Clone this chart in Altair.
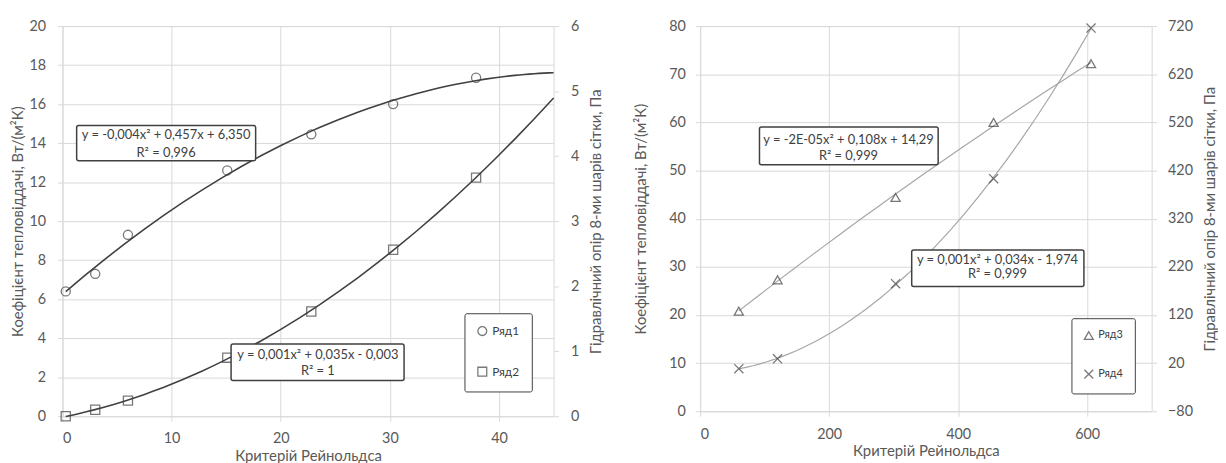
import altair as alt
import pandas as pd

# ---------------- data ----------------
re_left = [0.3, 3.0, 6.0, 15.1, 22.8, 30.3, 37.9]
ryad1 = [6.4, 7.3, 9.3, 12.6, 14.45, 16.0, 17.35]
ryad2 = [0.0, 0.1, 0.24, 0.9, 1.61, 2.56, 3.67]

re_right = [60, 120, 303, 455, 606]
ryad3 = [20.8, 27.3, 44.4, 60.0, 72.2]
ryad4 = [8.5, 29, 185, 403, 716]

series_left = ["Ряд1", "Ряд2"]
series_right = ["Ряд3", "Ряд4"]

eq_left = ["y = -0,004x² + 0,457x + 6,350", "R² = 0,996",
           "y = 0,001x² + 0,035x - 0,003", "R² = 1"]
eq_right = ["y = -2E-05x² + 0,108x + 14,29", "R² = 0,999",
            "y = 0,001x² + 0,034x - 1,974", "R² = 0,999"]

x_title = "Критерій Рейнольдса"
y1_title = "Коефіцієнт тепловіддачі, Вт/(м²К)"
y2_title = "Гідравлічний опір 8-ми шарів сітки, Па"

# annotation box placement (data units)
box_left = {"re": [1.3, 15.45], "re2": [17.7, 31.3], "v": [13.1, 1.83], "v2": [14.9, 3.7]}
txt_left = {"re": [9.5, 9.5, 23.4, 23.4], "v": [14.42, 13.5, 3.15, 2.33], "t": eq_left}
box_right = {"re": [92, 328], "re2": [369, 595], "v": [51.2, 25.9], "v2": [59.05, 33.5]}
txt_right = {"re": [230, 230, 461, 461], "v": [56.4, 53.1, 31.5, 28.6], "t": eq_right}

FONT = "Lato"
GRID = "#d9d9d9"
LAB = "#595959"
DARK = "#404040"
LIGHT = "#a6a6a6"
XPATH = "M-1,-1L1,1M-1,1L1,-1"


def build(xs, ya, yb, names, shapes, xdom, xvals, ydomA, yvalsA, ydomB, yvalsB,
          boxes, texts, line_color, line_w, extent, legend_xy, lp, w, h,
          ytitle_pad_left, ytitle_pad_right, legend_font):
    dfa = pd.DataFrame({"re": xs, "v": ya, "s": names[0]})
    dfb = pd.DataFrame({"re": xs, "v": yb, "s": names[1]})

    xaxis = alt.Axis(values=xvals, title=x_title, grid=True, gridColor=GRID,
                     domain=False, ticks=True, tickSize=5, tickColor=GRID,
                     labelPadding=11, titlePadding=3)
    xenc = alt.X("re:Q", scale=alt.Scale(domain=xdom, nice=False, zero=False), axis=xaxis)

    axisA = alt.Axis(orient="left", values=yvalsA, title=y1_title, grid=True, gridColor=GRID,
                     domain=False, tickSize=5, tickColor=GRID, labelPadding=lp[0],
                     titlePadding=ytitle_pad_left)
    axisB = alt.Axis(orient="right", values=yvalsB, title=y2_title, grid=False,
                     domain=False, tickSize=5, tickColor=GRID, labelPadding=lp[1],
                     titlePadding=ytitle_pad_right, titleAngle=270, titleBaseline="top")
    yA = alt.Y("v:Q", scale=alt.Scale(domain=ydomA, nice=False, zero=False), axis=axisA)
    yB = alt.Y("v:Q", scale=alt.Scale(domain=ydomB, nice=False, zero=False), axis=axisB)

    shape = alt.Shape("s:N", scale=alt.Scale(domain=names, range=shapes),
                      legend=alt.Legend(orient="none", legendX=legend_xy[0], legendY=legend_xy[1],
                                        title=None, strokeColor=DARK, cornerRadius=2,
                                        fillColor="white", padding=12, rowPadding=25,
                                        labelFont=FONT, labelFontSize=legend_font, labelColor=DARK,
                                        symbolSize=80, symbolStrokeWidth=1.3,
                                        symbolStrokeColor=DARK, labelOffset=4,
                                        labelExpr="datum.label + '   '"))

    ext = {} if extent is None else {"extent": extent}
    trendA = alt.Chart(dfa).transform_regression("re", "v", method="poly", order=2, **ext) \
        .mark_line(color=line_color, strokeWidth=line_w).encode(x=xenc, y=yA)
    ptsA = alt.Chart(dfa).mark_point(filled=False, color=DARK, size=85, strokeWidth=1.3) \
        .encode(x=xenc, y=yA, shape=shape)
    trendB = alt.Chart(dfb).transform_regression("re", "v", method="poly", order=2, **ext) \
        .mark_line(color=line_color, strokeWidth=line_w).encode(x=xenc, y=yB)
    ptsB = alt.Chart(dfb).mark_point(filled=False, color=DARK, size=85, strokeWidth=1.3) \
        .encode(x=xenc, y=yB, shape=shape)

    rects = alt.Chart(pd.DataFrame(boxes)).mark_rect(fill="white", stroke=DARK, strokeWidth=1.5,
                                                     cornerRadius=2) \
        .encode(x=xenc, x2="re2:Q", y=yA, y2="v2:Q")
    labels = alt.Chart(pd.DataFrame(texts)).mark_text(font=FONT, fontSize=13, color=DARK) \
        .encode(x=xenc, y=yA, text="t:N")

    groupB = alt.layer(trendB, ptsB)
    groupA = alt.layer(trendA, ptsA, rects, labels)
    return alt.layer(groupB, groupA).resolve_scale(y="independent").properties(width=w, height=h)


left = build(re_left, ryad1, ryad2, series_left, ["circle", "square"],
             [0, 45], [0, 10, 20, 30, 40], [0, 20], list(range(0, 21, 2)),
             [0, 6], list(range(0, 7)), box_left, txt_left, DARK, 1.6, [0.3, 45],
             (406, 290), (12, 12), 496, 394, 4, 10, 12)

right = build(re_right, ryad3, ryad4, series_right, ["triangle-up", XPATH],
              [0, 700], [0, 200, 400, 600], [0, 80], list(range(0, 81, 10)),
              [-80, 720], list(range(-80, 721, 100)), box_right, txt_right, LIGHT, 1.2, None,
              (375, 295), (10, 11), 456, 389, 20, 10, 11)

chart = alt.hconcat(left, right, spacing=29).resolve_scale(shape="independent") \
    .resolve_legend(shape="independent") \
    .properties(padding={"left": 1, "top": 7, "right": 0, "bottom": 0}) \
    .configure(font=FONT) \
    .configure_view(stroke=GRID) \
    .configure_axis(labelFont=FONT, labelFontSize=14.5, labelColor=LAB,
                    titleFont=FONT, titleFontSize=15, titleFontWeight="normal", titleColor=LAB)

chart.save("out.html", embed_options={"renderer": "svg", "actions": False})
